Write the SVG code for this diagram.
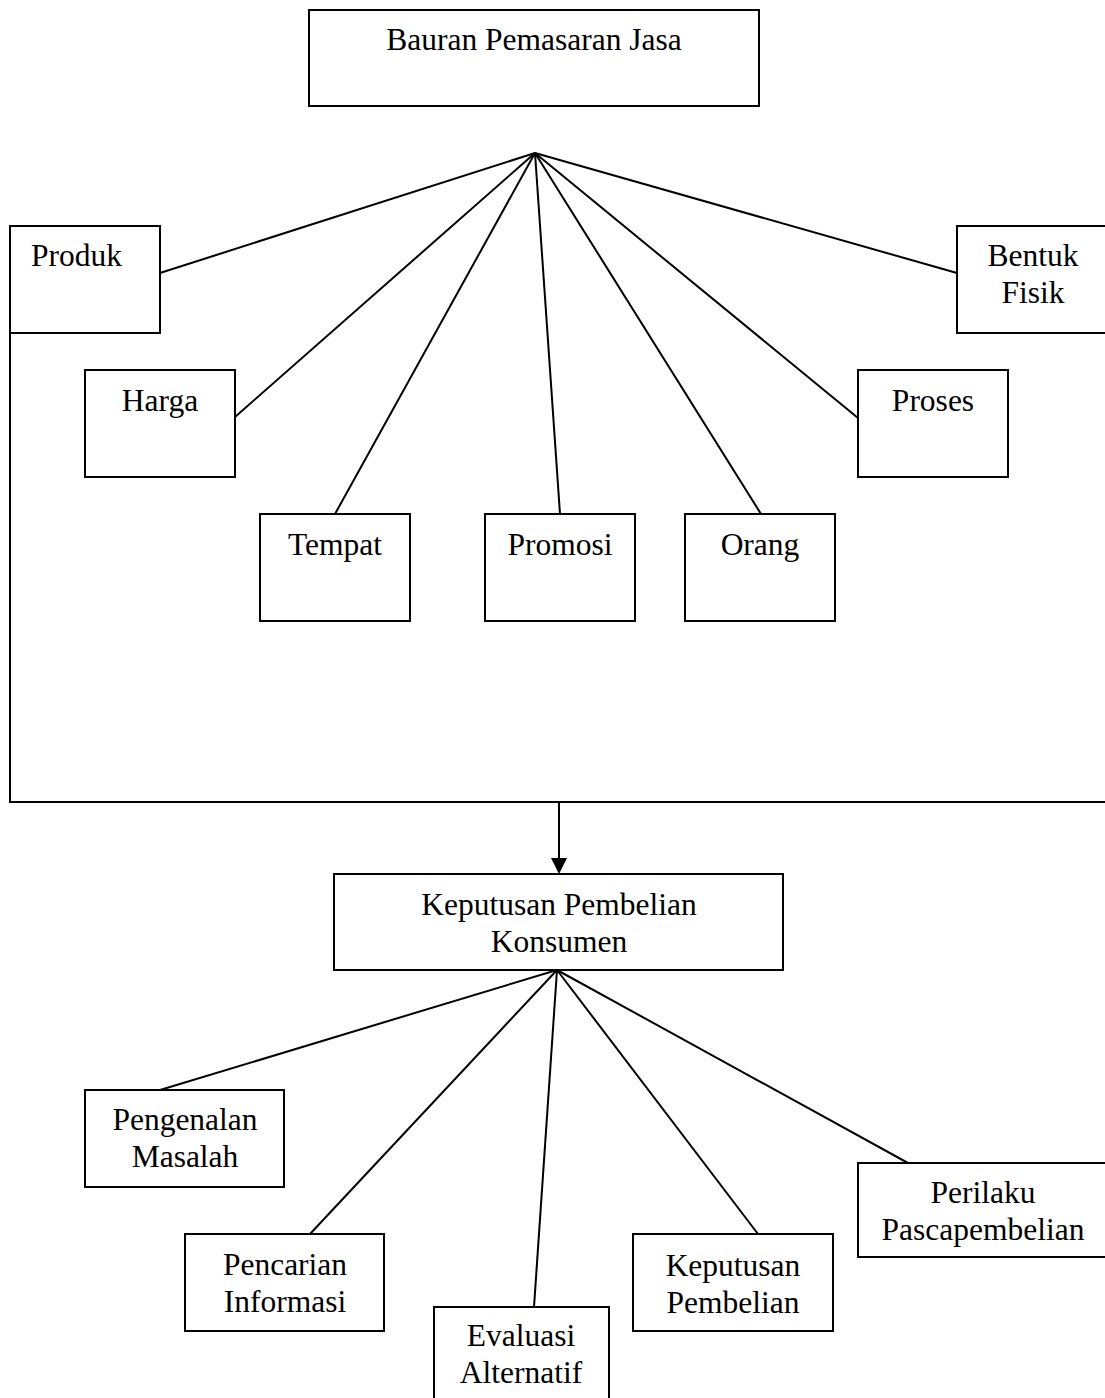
<svg xmlns="http://www.w3.org/2000/svg" width="1105" height="1398" viewBox="0 0 1105 1398">
<style>
.box{fill:#fff;stroke:#000;stroke-width:2}
.t{font-family:"Liberation Serif","Times New Roman",serif;font-size:31.5px;fill:#000;text-anchor:middle}
.ln{stroke:#000;stroke-width:2;fill:none}
</style>
<defs>
<marker id="arr" markerWidth="16" markerHeight="16" refX="8" refY="16" orient="auto" markerUnits="userSpaceOnUse" viewBox="0 0 16 16">
<path d="M0,0 L16,0 L8,16 Z" fill="#000" transform="rotate(-90 8 8)"/>
</marker>
</defs>
<rect width="1105" height="1398" fill="#fff"/>
<g id="connectors">
<line class="ln" x1="535" y1="153" x2="160" y2="273"/>
<line class="ln" x1="535" y1="153" x2="235" y2="417"/>
<line class="ln" x1="535" y1="153" x2="335" y2="514"/>
<line class="ln" x1="535" y1="153" x2="560" y2="514"/>
<line class="ln" x1="535" y1="153" x2="761" y2="514"/>
<line class="ln" x1="535" y1="153" x2="858" y2="418"/>
<line class="ln" x1="535" y1="153" x2="957" y2="273"/>
<polyline class="ln" points="10,333 10,802 1105,802"/>
<line class="ln" x1="559" y1="802" x2="559" y2="858"/>
<path d="M551,858 L567,858 L559,874 Z" fill="#000"/>
<line class="ln" x1="557" y1="970" x2="160" y2="1090"/>
<line class="ln" x1="557" y1="970" x2="310" y2="1234"/>
<line class="ln" x1="557" y1="970" x2="534" y2="1307"/>
<line class="ln" x1="557" y1="970" x2="758" y2="1234"/>
<line class="ln" x1="557" y1="970" x2="908" y2="1163"/>
</g>
<g id="bauran"><rect class="box" x="309" y="10" width="450" height="96"/><text class="t" x="534" y="50">Bauran Pemasaran Jasa</text></g>
<g id="produk"><rect class="box" x="10" y="226" width="150" height="107"/><text class="t" x="31" y="266" style="text-anchor:start">Produk</text></g>
<g id="harga"><rect class="box" x="85" y="370" width="150" height="107"/><text class="t" x="160" y="411">Harga</text></g>
<g id="tempat"><rect class="box" x="260" y="514" width="150" height="107"/><text class="t" x="335" y="555">Tempat</text></g>
<g id="promosi"><rect class="box" x="485" y="514" width="150" height="107"/><text class="t" x="560" y="555">Promosi</text></g>
<g id="orang"><rect class="box" x="685" y="514" width="150" height="107"/><text class="t" x="760" y="555">Orang</text></g>
<g id="proses"><rect class="box" x="858" y="370" width="150" height="107"/><text class="t" x="933" y="411">Proses</text></g>
<g id="bentuk-fisik"><rect class="box" x="957" y="226" width="150" height="107"/><text class="t" x="1033" y="266">Bentuk</text><text class="t" x="1033" y="303">Fisik</text></g>
<g id="keputusan-konsumen"><rect class="box" x="334" y="874" width="449" height="96"/><text class="t" x="559" y="915">Keputusan Pembelian</text><text class="t" x="559" y="952">Konsumen</text></g>
<g id="pengenalan"><rect class="box" x="85" y="1090" width="199" height="97"/><text class="t" x="185" y="1130">Pengenalan</text><text class="t" x="185" y="1167">Masalah</text></g>
<g id="pencarian"><rect class="box" x="185" y="1234" width="199" height="97"/><text class="t" x="285" y="1275">Pencarian</text><text class="t" x="285" y="1312">Informasi</text></g>
<g id="evaluasi"><rect class="box" x="434" y="1307" width="175" height="100"/><text class="t" x="521" y="1346">Evaluasi</text><text class="t" x="521" y="1383">Alternatif</text></g>
<g id="keputusan-pembelian"><rect class="box" x="633" y="1234" width="200" height="97"/><text class="t" x="733" y="1276">Keputusan</text><text class="t" x="733" y="1313">Pembelian</text></g>
<g id="perilaku"><rect class="box" x="858" y="1163" width="250" height="94"/><text class="t" x="983" y="1203">Perilaku</text><text class="t" x="983" y="1240">Pascapembelian</text></g>
</svg>
